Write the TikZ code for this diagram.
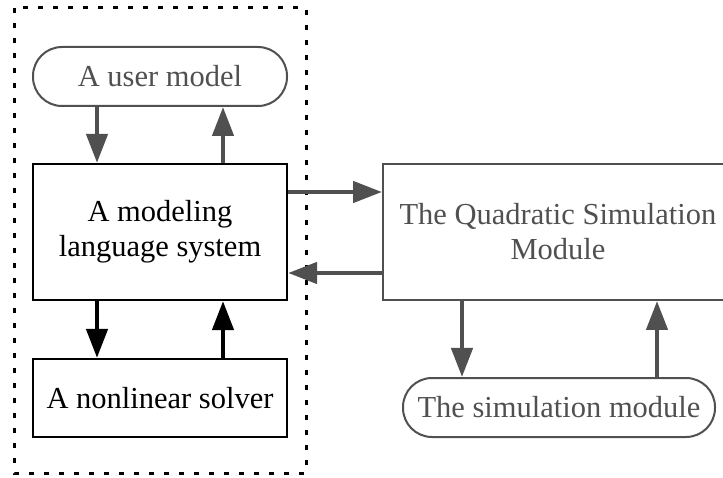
\documentclass[tikz,border=0pt]{standalone}
\usepackage{fontspec}
\setmainfont{Liberation Serif}
\usetikzlibrary{arrows.meta}
\definecolor{dg}{HTML}{505050}
\begin{document}
\begin{tikzpicture}[x=1pt,y=-1pt,
  box/.style={draw, line width=2.2pt, minimum width=254pt, align=center, inner sep=0pt,
     font=\fontsize{30.5}{35}\selectfont},
  gbox/.style={box, draw=dg, text=dg, line width=2pt},
  pill/.style={gbox, rounded corners=29pt, minimum height=59pt},
  arr/.style={line width=4.5pt, draw=dg, -{Triangle[length=29pt,width=21pt]}},
  barr/.style={arr, draw=black}
]
\useasboundingbox (0,0) rectangle (723,478);
\draw[line width=3pt, dash pattern=on 5pt off 10pt] (14,8) rectangle (306,473);
\node[pill] (um) at (160,76.5) {A user model};
\node[box, minimum height=136pt] (ml) at (160,232) {A modeling\\language system};
\node[box, minimum height=78pt] (ns) at (160,398) {A nonlinear solver};
\node[gbox, minimum width=350pt, minimum height=136pt] (qs) at (558,232) {The Quadratic Simulation\\Module};
\node[pill, minimum width=312pt] (sm) at (559,407.5) {The simulation module};
\draw[arr] ([xshift=-63pt]um.south) -- ([xshift=-63pt]ml.north);
\draw[arr] ([xshift=63pt]ml.north) -- ([xshift=63pt]um.south);
\draw[barr] ([xshift=-63pt]ml.south) -- ([xshift=-63pt]ns.north);
\draw[barr] ([xshift=63pt]ns.north) -- ([xshift=63pt]ml.south);
\draw[arr] ([yshift=40pt]ml.east) -- ([yshift=40pt]ml.east -| qs.west);
\draw[arr] ([yshift=-41pt]qs.west) -- ([yshift=-41pt]qs.west -| ml.east);
\draw[arr] ([xshift=-96pt]qs.south) -- ([xshift=-96pt]qs.south |- sm.north);
\draw[arr] ([xshift=99pt]qs.south |- sm.north) -- ([xshift=99pt]qs.south);
\end{tikzpicture}
\end{document}
